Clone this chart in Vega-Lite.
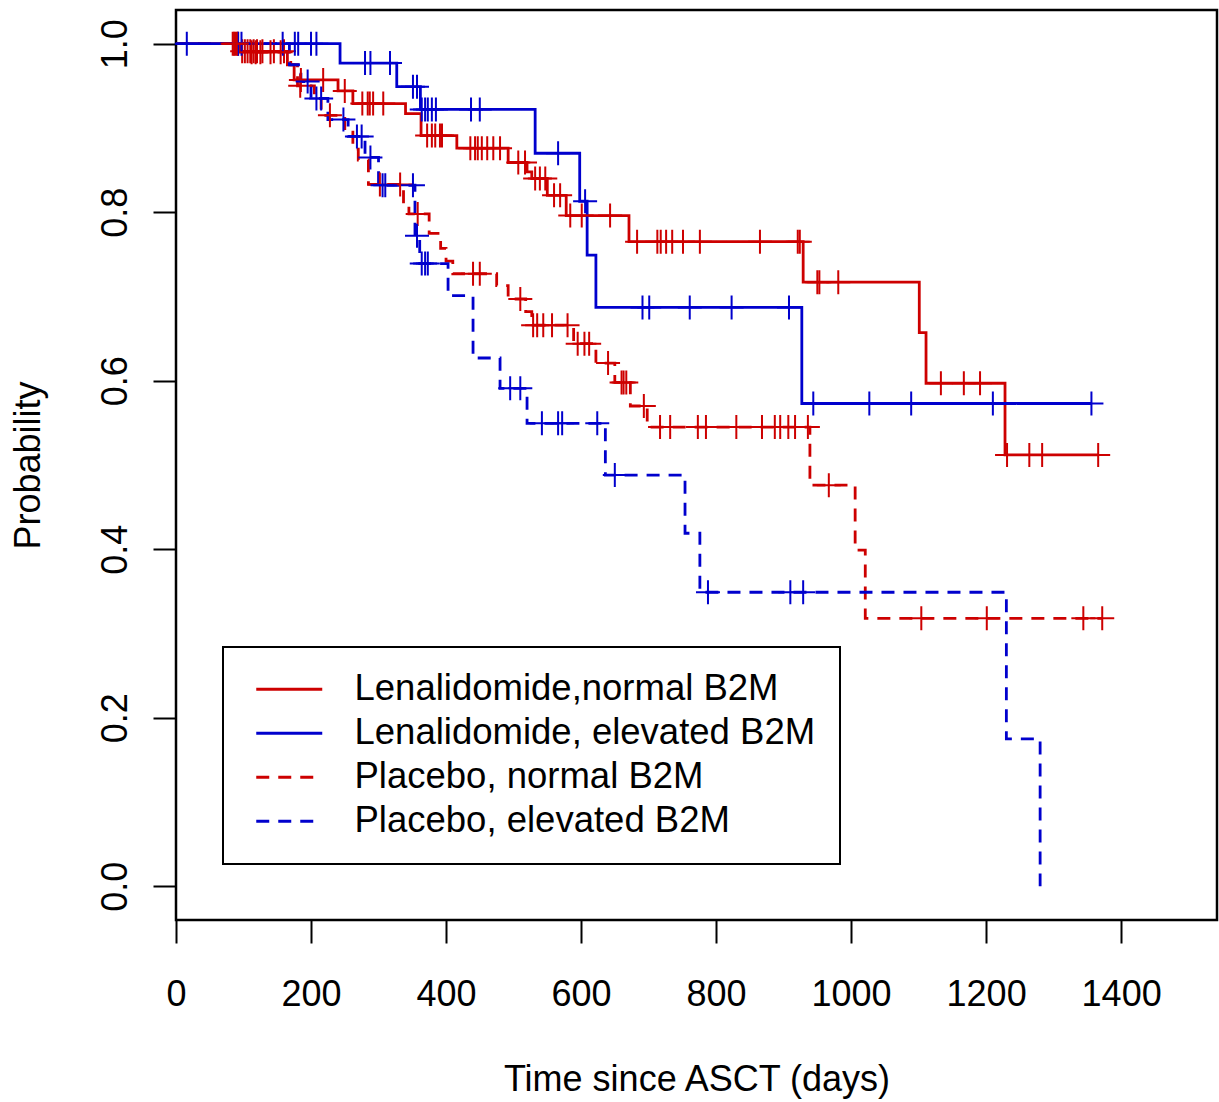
{
  "$schema": "https://vega.github.io/schema/vega-lite/v6.json",
  "width": 1041,
  "height": 910,
  "autosize": {"type": "none"},
  "padding": {"left": 176, "top": 10, "right": 2, "bottom": 182},
  "background": "white",
  "config": {
    "view": {"stroke": "black", "strokeWidth": 2.5},
    "font": "Liberation Sans",
    "axis": {"labelFont": "Liberation Sans", "titleFont": "Liberation Sans", "labelFontSize": 36, "titleFontSize": 36, "titleFontWeight": "normal", "labelColor": "black", "titleColor": "black", "tickColor": "black", "tickWidth": 2, "tickSize": 23, "domain": false, "grid": false, "labelOverlap": false, "labelFlush": false},
    "legend": {"labelFont": "Liberation Sans", "labelFontSize": 36.5, "labelColor": "black", "labelLimit": 0, "strokeWidth": 2}
  },
  "datasets": {
    "steps": [
      {"g": "Lenalidomide,normal B2M", "t": 0, "s": 1},
      {"g": "Lenalidomide,normal B2M", "t": 95, "s": 0.991},
      {"g": "Lenalidomide,normal B2M", "t": 165, "s": 0.975},
      {"g": "Lenalidomide,normal B2M", "t": 175, "s": 0.957},
      {"g": "Lenalidomide,normal B2M", "t": 240, "s": 0.944},
      {"g": "Lenalidomide,normal B2M", "t": 262, "s": 0.929},
      {"g": "Lenalidomide,normal B2M", "t": 340, "s": 0.917},
      {"g": "Lenalidomide,normal B2M", "t": 363, "s": 0.891},
      {"g": "Lenalidomide,normal B2M", "t": 416, "s": 0.876},
      {"g": "Lenalidomide,normal B2M", "t": 492, "s": 0.859},
      {"g": "Lenalidomide,normal B2M", "t": 520, "s": 0.848},
      {"g": "Lenalidomide,normal B2M", "t": 527, "s": 0.84},
      {"g": "Lenalidomide,normal B2M", "t": 550, "s": 0.82},
      {"g": "Lenalidomide,normal B2M", "t": 578, "s": 0.796},
      {"g": "Lenalidomide,normal B2M", "t": 671, "s": 0.765},
      {"g": "Lenalidomide,normal B2M", "t": 929, "s": 0.717},
      {"g": "Lenalidomide,normal B2M", "t": 1101, "s": 0.657},
      {"g": "Lenalidomide,normal B2M", "t": 1111, "s": 0.597},
      {"g": "Lenalidomide,normal B2M", "t": 1228, "s": 0.512},
      {"g": "Lenalidomide,normal B2M", "t": 1366, "s": 0.512},
      {"g": "Lenalidomide, elevated B2M", "t": 0, "s": 1},
      {"g": "Lenalidomide, elevated B2M", "t": 243, "s": 0.977},
      {"g": "Lenalidomide, elevated B2M", "t": 327, "s": 0.949},
      {"g": "Lenalidomide, elevated B2M", "t": 362, "s": 0.922},
      {"g": "Lenalidomide, elevated B2M", "t": 532, "s": 0.87},
      {"g": "Lenalidomide, elevated B2M", "t": 598, "s": 0.813},
      {"g": "Lenalidomide, elevated B2M", "t": 609, "s": 0.749},
      {"g": "Lenalidomide, elevated B2M", "t": 622, "s": 0.687},
      {"g": "Lenalidomide, elevated B2M", "t": 927, "s": 0.573},
      {"g": "Lenalidomide, elevated B2M", "t": 1356, "s": 0.573},
      {"g": "Placebo, normal B2M", "t": 0, "s": 1},
      {"g": "Placebo, normal B2M", "t": 95, "s": 0.99},
      {"g": "Placebo, normal B2M", "t": 170, "s": 0.975},
      {"g": "Placebo, normal B2M", "t": 180, "s": 0.95},
      {"g": "Placebo, normal B2M", "t": 205, "s": 0.935},
      {"g": "Placebo, normal B2M", "t": 215, "s": 0.915},
      {"g": "Placebo, normal B2M", "t": 250, "s": 0.895},
      {"g": "Placebo, normal B2M", "t": 262, "s": 0.875},
      {"g": "Placebo, normal B2M", "t": 270, "s": 0.862},
      {"g": "Placebo, normal B2M", "t": 285, "s": 0.833},
      {"g": "Placebo, normal B2M", "t": 337, "s": 0.81},
      {"g": "Placebo, normal B2M", "t": 345, "s": 0.798},
      {"g": "Placebo, normal B2M", "t": 375, "s": 0.775},
      {"g": "Placebo, normal B2M", "t": 392, "s": 0.757},
      {"g": "Placebo, normal B2M", "t": 400, "s": 0.742},
      {"g": "Placebo, normal B2M", "t": 410, "s": 0.727},
      {"g": "Placebo, normal B2M", "t": 475, "s": 0.713},
      {"g": "Placebo, normal B2M", "t": 492, "s": 0.697},
      {"g": "Placebo, normal B2M", "t": 518, "s": 0.682},
      {"g": "Placebo, normal B2M", "t": 527, "s": 0.666},
      {"g": "Placebo, normal B2M", "t": 589, "s": 0.644},
      {"g": "Placebo, normal B2M", "t": 622, "s": 0.621},
      {"g": "Placebo, normal B2M", "t": 650, "s": 0.598},
      {"g": "Placebo, normal B2M", "t": 673, "s": 0.57},
      {"g": "Placebo, normal B2M", "t": 698, "s": 0.545},
      {"g": "Placebo, normal B2M", "t": 939, "s": 0.476},
      {"g": "Placebo, normal B2M", "t": 1006, "s": 0.399},
      {"g": "Placebo, normal B2M", "t": 1021, "s": 0.318},
      {"g": "Placebo, normal B2M", "t": 1372, "s": 0.318},
      {"g": "Placebo, elevated B2M", "t": 0, "s": 1},
      {"g": "Placebo, elevated B2M", "t": 168, "s": 0.975},
      {"g": "Placebo, elevated B2M", "t": 185, "s": 0.955},
      {"g": "Placebo, elevated B2M", "t": 200, "s": 0.935},
      {"g": "Placebo, elevated B2M", "t": 225, "s": 0.91},
      {"g": "Placebo, elevated B2M", "t": 255, "s": 0.89},
      {"g": "Placebo, elevated B2M", "t": 280, "s": 0.865},
      {"g": "Placebo, elevated B2M", "t": 300, "s": 0.832},
      {"g": "Placebo, elevated B2M", "t": 354, "s": 0.772},
      {"g": "Placebo, elevated B2M", "t": 361, "s": 0.739},
      {"g": "Placebo, elevated B2M", "t": 403, "s": 0.701},
      {"g": "Placebo, elevated B2M", "t": 440, "s": 0.627},
      {"g": "Placebo, elevated B2M", "t": 480, "s": 0.591},
      {"g": "Placebo, elevated B2M", "t": 520, "s": 0.5495},
      {"g": "Placebo, elevated B2M", "t": 636, "s": 0.488},
      {"g": "Placebo, elevated B2M", "t": 754, "s": 0.419},
      {"g": "Placebo, elevated B2M", "t": 776, "s": 0.349},
      {"g": "Placebo, elevated B2M", "t": 1230, "s": 0.175},
      {"g": "Placebo, elevated B2M", "t": 1280, "s": 0.0}
    ],
    "censors": [
      {"g": "Lenalidomide,normal B2M", "t": 84, "s": 1},
      {"g": "Lenalidomide,normal B2M", "t": 88, "s": 1},
      {"g": "Lenalidomide,normal B2M", "t": 92, "s": 1},
      {"g": "Lenalidomide,normal B2M", "t": 98, "s": 0.991},
      {"g": "Lenalidomide,normal B2M", "t": 102, "s": 0.991},
      {"g": "Lenalidomide,normal B2M", "t": 106, "s": 0.991},
      {"g": "Lenalidomide,normal B2M", "t": 110, "s": 0.991},
      {"g": "Lenalidomide,normal B2M", "t": 115, "s": 0.991},
      {"g": "Lenalidomide,normal B2M", "t": 120, "s": 0.991},
      {"g": "Lenalidomide,normal B2M", "t": 128, "s": 0.991},
      {"g": "Lenalidomide,normal B2M", "t": 145, "s": 0.991},
      {"g": "Lenalidomide,normal B2M", "t": 160, "s": 0.991},
      {"g": "Lenalidomide,normal B2M", "t": 185, "s": 0.957},
      {"g": "Lenalidomide,normal B2M", "t": 218, "s": 0.957},
      {"g": "Lenalidomide,normal B2M", "t": 250, "s": 0.944},
      {"g": "Lenalidomide,normal B2M", "t": 276, "s": 0.929},
      {"g": "Lenalidomide,normal B2M", "t": 284, "s": 0.929},
      {"g": "Lenalidomide,normal B2M", "t": 287, "s": 0.929},
      {"g": "Lenalidomide,normal B2M", "t": 292, "s": 0.929},
      {"g": "Lenalidomide,normal B2M", "t": 307, "s": 0.929},
      {"g": "Lenalidomide,normal B2M", "t": 372, "s": 0.891},
      {"g": "Lenalidomide,normal B2M", "t": 379, "s": 0.891},
      {"g": "Lenalidomide,normal B2M", "t": 384, "s": 0.891},
      {"g": "Lenalidomide,normal B2M", "t": 391, "s": 0.891},
      {"g": "Lenalidomide,normal B2M", "t": 394, "s": 0.891},
      {"g": "Lenalidomide,normal B2M", "t": 436, "s": 0.876},
      {"g": "Lenalidomide,normal B2M", "t": 443, "s": 0.876},
      {"g": "Lenalidomide,normal B2M", "t": 447, "s": 0.876},
      {"g": "Lenalidomide,normal B2M", "t": 453, "s": 0.876},
      {"g": "Lenalidomide,normal B2M", "t": 461, "s": 0.876},
      {"g": "Lenalidomide,normal B2M", "t": 470, "s": 0.876},
      {"g": "Lenalidomide,normal B2M", "t": 480, "s": 0.876},
      {"g": "Lenalidomide,normal B2M", "t": 507, "s": 0.859},
      {"g": "Lenalidomide,normal B2M", "t": 517, "s": 0.859},
      {"g": "Lenalidomide,normal B2M", "t": 532, "s": 0.84},
      {"g": "Lenalidomide,normal B2M", "t": 539, "s": 0.84},
      {"g": "Lenalidomide,normal B2M", "t": 547, "s": 0.84},
      {"g": "Lenalidomide,normal B2M", "t": 560, "s": 0.82},
      {"g": "Lenalidomide,normal B2M", "t": 569, "s": 0.82},
      {"g": "Lenalidomide,normal B2M", "t": 584, "s": 0.796},
      {"g": "Lenalidomide,normal B2M", "t": 601, "s": 0.796},
      {"g": "Lenalidomide,normal B2M", "t": 643, "s": 0.796},
      {"g": "Lenalidomide,normal B2M", "t": 683, "s": 0.765},
      {"g": "Lenalidomide,normal B2M", "t": 713, "s": 0.765},
      {"g": "Lenalidomide,normal B2M", "t": 718, "s": 0.765},
      {"g": "Lenalidomide,normal B2M", "t": 726, "s": 0.765},
      {"g": "Lenalidomide,normal B2M", "t": 735, "s": 0.765},
      {"g": "Lenalidomide,normal B2M", "t": 751, "s": 0.765},
      {"g": "Lenalidomide,normal B2M", "t": 776, "s": 0.765},
      {"g": "Lenalidomide,normal B2M", "t": 865, "s": 0.765},
      {"g": "Lenalidomide,normal B2M", "t": 921, "s": 0.765},
      {"g": "Lenalidomide,normal B2M", "t": 924, "s": 0.765},
      {"g": "Lenalidomide,normal B2M", "t": 950, "s": 0.717},
      {"g": "Lenalidomide,normal B2M", "t": 953, "s": 0.717},
      {"g": "Lenalidomide,normal B2M", "t": 981, "s": 0.717},
      {"g": "Lenalidomide,normal B2M", "t": 1133, "s": 0.597},
      {"g": "Lenalidomide,normal B2M", "t": 1167, "s": 0.597},
      {"g": "Lenalidomide,normal B2M", "t": 1191, "s": 0.597},
      {"g": "Lenalidomide,normal B2M", "t": 1231, "s": 0.512},
      {"g": "Lenalidomide,normal B2M", "t": 1264, "s": 0.512},
      {"g": "Lenalidomide,normal B2M", "t": 1283, "s": 0.512},
      {"g": "Lenalidomide,normal B2M", "t": 1366, "s": 0.512},
      {"g": "Lenalidomide, elevated B2M", "t": 16, "s": 1},
      {"g": "Lenalidomide, elevated B2M", "t": 92, "s": 1},
      {"g": "Lenalidomide, elevated B2M", "t": 97, "s": 1},
      {"g": "Lenalidomide, elevated B2M", "t": 158, "s": 1},
      {"g": "Lenalidomide, elevated B2M", "t": 176, "s": 1},
      {"g": "Lenalidomide, elevated B2M", "t": 181, "s": 1},
      {"g": "Lenalidomide, elevated B2M", "t": 200, "s": 1},
      {"g": "Lenalidomide, elevated B2M", "t": 208, "s": 1},
      {"g": "Lenalidomide, elevated B2M", "t": 280, "s": 0.977},
      {"g": "Lenalidomide, elevated B2M", "t": 288, "s": 0.977},
      {"g": "Lenalidomide, elevated B2M", "t": 317, "s": 0.977},
      {"g": "Lenalidomide, elevated B2M", "t": 351, "s": 0.949},
      {"g": "Lenalidomide, elevated B2M", "t": 357, "s": 0.949},
      {"g": "Lenalidomide, elevated B2M", "t": 364, "s": 0.922},
      {"g": "Lenalidomide, elevated B2M", "t": 369, "s": 0.922},
      {"g": "Lenalidomide, elevated B2M", "t": 373, "s": 0.922},
      {"g": "Lenalidomide, elevated B2M", "t": 379, "s": 0.922},
      {"g": "Lenalidomide, elevated B2M", "t": 385, "s": 0.922},
      {"g": "Lenalidomide, elevated B2M", "t": 437, "s": 0.922},
      {"g": "Lenalidomide, elevated B2M", "t": 450, "s": 0.922},
      {"g": "Lenalidomide, elevated B2M", "t": 566, "s": 0.87},
      {"g": "Lenalidomide, elevated B2M", "t": 606, "s": 0.813},
      {"g": "Lenalidomide, elevated B2M", "t": 691, "s": 0.687},
      {"g": "Lenalidomide, elevated B2M", "t": 701, "s": 0.687},
      {"g": "Lenalidomide, elevated B2M", "t": 761, "s": 0.687},
      {"g": "Lenalidomide, elevated B2M", "t": 823, "s": 0.687},
      {"g": "Lenalidomide, elevated B2M", "t": 908, "s": 0.687},
      {"g": "Lenalidomide, elevated B2M", "t": 944, "s": 0.573},
      {"g": "Lenalidomide, elevated B2M", "t": 1027, "s": 0.573},
      {"g": "Lenalidomide, elevated B2M", "t": 1089, "s": 0.573},
      {"g": "Lenalidomide, elevated B2M", "t": 1210, "s": 0.573},
      {"g": "Lenalidomide, elevated B2M", "t": 1356, "s": 0.573},
      {"g": "Placebo, normal B2M", "t": 86, "s": 1},
      {"g": "Placebo, normal B2M", "t": 90, "s": 1},
      {"g": "Placebo, normal B2M", "t": 112, "s": 0.99},
      {"g": "Placebo, normal B2M", "t": 118, "s": 0.99},
      {"g": "Placebo, normal B2M", "t": 125, "s": 0.99},
      {"g": "Placebo, normal B2M", "t": 140, "s": 0.99},
      {"g": "Placebo, normal B2M", "t": 155, "s": 0.99},
      {"g": "Placebo, normal B2M", "t": 184, "s": 0.95},
      {"g": "Placebo, normal B2M", "t": 228, "s": 0.915},
      {"g": "Placebo, normal B2M", "t": 302, "s": 0.833},
      {"g": "Placebo, normal B2M", "t": 332, "s": 0.833},
      {"g": "Placebo, normal B2M", "t": 358, "s": 0.798},
      {"g": "Placebo, normal B2M", "t": 440, "s": 0.727},
      {"g": "Placebo, normal B2M", "t": 450, "s": 0.727},
      {"g": "Placebo, normal B2M", "t": 510, "s": 0.697},
      {"g": "Placebo, normal B2M", "t": 529, "s": 0.666},
      {"g": "Placebo, normal B2M", "t": 535, "s": 0.666},
      {"g": "Placebo, normal B2M", "t": 544, "s": 0.666},
      {"g": "Placebo, normal B2M", "t": 557, "s": 0.666},
      {"g": "Placebo, normal B2M", "t": 580, "s": 0.666},
      {"g": "Placebo, normal B2M", "t": 595, "s": 0.644},
      {"g": "Placebo, normal B2M", "t": 605, "s": 0.644},
      {"g": "Placebo, normal B2M", "t": 612, "s": 0.644},
      {"g": "Placebo, normal B2M", "t": 640, "s": 0.621},
      {"g": "Placebo, normal B2M", "t": 660, "s": 0.598},
      {"g": "Placebo, normal B2M", "t": 663, "s": 0.598},
      {"g": "Placebo, normal B2M", "t": 667, "s": 0.598},
      {"g": "Placebo, normal B2M", "t": 693, "s": 0.57},
      {"g": "Placebo, normal B2M", "t": 717, "s": 0.545},
      {"g": "Placebo, normal B2M", "t": 732, "s": 0.545},
      {"g": "Placebo, normal B2M", "t": 773, "s": 0.545},
      {"g": "Placebo, normal B2M", "t": 785, "s": 0.545},
      {"g": "Placebo, normal B2M", "t": 830, "s": 0.545},
      {"g": "Placebo, normal B2M", "t": 868, "s": 0.545},
      {"g": "Placebo, normal B2M", "t": 887, "s": 0.545},
      {"g": "Placebo, normal B2M", "t": 895, "s": 0.545},
      {"g": "Placebo, normal B2M", "t": 907, "s": 0.545},
      {"g": "Placebo, normal B2M", "t": 917, "s": 0.545},
      {"g": "Placebo, normal B2M", "t": 936, "s": 0.545},
      {"g": "Placebo, normal B2M", "t": 967, "s": 0.476},
      {"g": "Placebo, normal B2M", "t": 1104, "s": 0.318},
      {"g": "Placebo, normal B2M", "t": 1201, "s": 0.318},
      {"g": "Placebo, normal B2M", "t": 1344, "s": 0.318},
      {"g": "Placebo, normal B2M", "t": 1372, "s": 0.318},
      {"g": "Placebo, elevated B2M", "t": 195, "s": 0.955},
      {"g": "Placebo, elevated B2M", "t": 208, "s": 0.935},
      {"g": "Placebo, elevated B2M", "t": 215, "s": 0.935},
      {"g": "Placebo, elevated B2M", "t": 248, "s": 0.91},
      {"g": "Placebo, elevated B2M", "t": 268, "s": 0.89},
      {"g": "Placebo, elevated B2M", "t": 275, "s": 0.89},
      {"g": "Placebo, elevated B2M", "t": 288, "s": 0.865},
      {"g": "Placebo, elevated B2M", "t": 306, "s": 0.832},
      {"g": "Placebo, elevated B2M", "t": 310, "s": 0.832},
      {"g": "Placebo, elevated B2M", "t": 351, "s": 0.832},
      {"g": "Placebo, elevated B2M", "t": 357, "s": 0.772},
      {"g": "Placebo, elevated B2M", "t": 364, "s": 0.739},
      {"g": "Placebo, elevated B2M", "t": 369, "s": 0.739},
      {"g": "Placebo, elevated B2M", "t": 373, "s": 0.739},
      {"g": "Placebo, elevated B2M", "t": 495, "s": 0.591},
      {"g": "Placebo, elevated B2M", "t": 510, "s": 0.591},
      {"g": "Placebo, elevated B2M", "t": 542, "s": 0.5495},
      {"g": "Placebo, elevated B2M", "t": 566, "s": 0.5495},
      {"g": "Placebo, elevated B2M", "t": 572, "s": 0.5495},
      {"g": "Placebo, elevated B2M", "t": 624, "s": 0.5495},
      {"g": "Placebo, elevated B2M", "t": 650, "s": 0.488},
      {"g": "Placebo, elevated B2M", "t": 788, "s": 0.349},
      {"g": "Placebo, elevated B2M", "t": 910, "s": 0.349},
      {"g": "Placebo, elevated B2M", "t": 929, "s": 0.349}
    ]
  },
  "encoding": {
    "x": {"field": "t", "type": "quantitative", "scale": {"domain": [0, 1542], "nice": false, "zero": false},
      "axis": {"title": "Time since ASCT (days)", "values": [0, 200, 400, 600, 800, 1000, 1200, 1400], "format": "d", "labelPadding": 34, "titlePadding": 50}},
    "y": {"field": "s", "type": "quantitative", "scale": {"domain": [-0.04, 1.04], "nice": false, "zero": false},
      "axis": {"title": "Probability", "values": [0, 0.2, 0.4, 0.6, 0.8, 1.0], "format": ".1f", "labelAngle": 270, "labelAlign": "center", "labelBaseline": "bottom", "labelPadding": 19, "titlePadding": 50}},
    "color": {"field": "g", "type": "nominal",
      "scale": {"domain": ["Lenalidomide,normal B2M", "Lenalidomide, elevated B2M", "Placebo, normal B2M", "Placebo, elevated B2M"], "range": ["#CD0000", "#0000CD", "#CD0000", "#0000CD"]}}
  },
  "layer": [
    {
      "data": {"name": "steps"},
      "mark": {"type": "line", "interpolate": "step-after", "strokeWidth": 2.8},
      "encoding": {
        "color": {"field": "g", "type": "nominal",
          "scale": {"domain": ["Lenalidomide,normal B2M", "Lenalidomide, elevated B2M", "Placebo, normal B2M", "Placebo, elevated B2M"], "range": ["#CD0000", "#0000CD", "#CD0000", "#0000CD"]},
          "legend": {"title": null, "orient": "none", "legendX": 47, "legendY": 637, "padding": 24, "fillColor": "white", "strokeColor": "black", "symbolType": "M-3,0H3", "symbolSize": 484, "symbolStrokeWidth": 3, "symbolOffset": 24, "labelOffset": 47, "rowPadding": 7.0}},
        "strokeDash": {"field": "g", "type": "nominal",
          "scale": {"domain": ["Lenalidomide,normal B2M", "Lenalidomide, elevated B2M", "Placebo, normal B2M", "Placebo, elevated B2M"], "range": [[1, 0], [1, 0], [13, 9], [13, 9]]},
          "legend": {"title": null, "orient": "none", "legendX": 47, "legendY": 637, "padding": 24, "fillColor": "white", "strokeColor": "black", "symbolType": "M-3,0H3", "symbolSize": 484, "symbolStrokeWidth": 3, "symbolOffset": 24, "labelOffset": 47, "rowPadding": 7.0}}
      }
    },
    {
      "data": {"name": "censors"},
      "mark": {"type": "point", "shape": "M-1,0H1M0,-1V1", "filled": false, "size": 576, "strokeWidth": 2, "opacity": 1},
      "encoding": {
        "color": {"field": "g", "type": "nominal", "legend": null}
      }
    }
  ]
}
